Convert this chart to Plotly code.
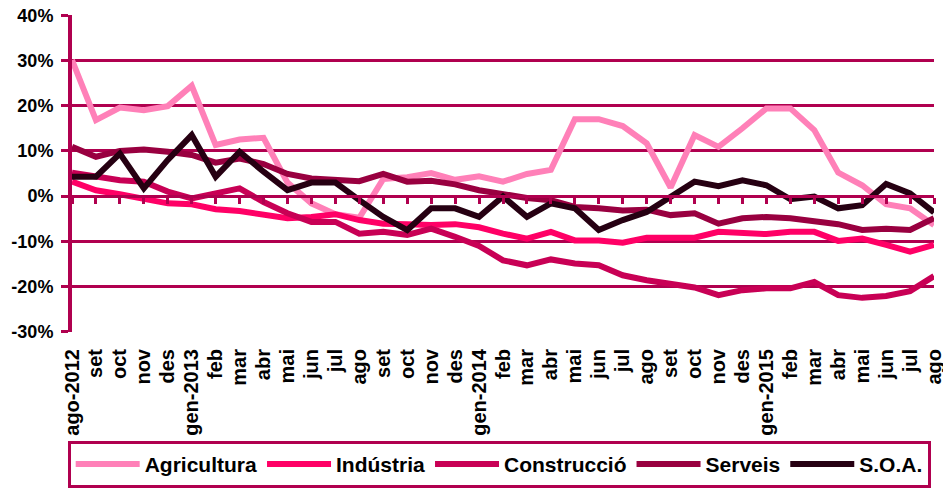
import plotly.graph_objects as go

months = ["ago-2012", "set", "oct", "nov", "des", "gen-2013", "feb", "mar", "abr", "mai", "jun", "jul",
          "ago", "set", "oct", "nov", "des", "gen-2014", "feb", "mar", "abr", "mai", "jun", "jul",
          "ago", "set", "oct", "nov", "des", "gen-2015", "feb", "mar", "abr", "mai", "jun", "jul", "ago"]

agricultura = [30.1, 16.8, 19.6, 19.0, 19.9, 24.4, 11.3, 12.5, 12.9, 3.0, -1.6, -4.0, -4.8, 3.8, 4.2, 5.1, 3.6,
               4.4, 3.2, 4.9, 5.8, 17.0, 17.0, 15.5, 11.7, 1.9, 13.5, 10.9, 15.0, 19.4, 19.4, 14.6, 5.2, 2.4,
               -1.8, -2.7, -6.4]
industria = [3.2, 1.3, 0.4, -0.5, -1.6, -1.8, -2.9, -3.3, -4.0, -4.9, -4.6, -4.0, -5.3, -6.1, -6.2, -6.4, -6.2,
             -6.9, -8.3, -9.4, -7.9, -9.8, -9.8, -10.3, -9.2, -9.2, -9.2, -7.9, -8.3, -8.4, -7.9, -7.9, -9.9,
             -9.4, -10.8, -12.3, -10.8]
construccio = [5.2, 4.5, 3.5, 3.2, 1.0, -0.5, 0.6, 1.7, -1.3, -3.8, -5.7, -5.7, -8.3, -7.9, -8.6, -7.2, -9.0,
               -11.0, -14.2, -15.3, -14.0, -14.9, -15.3, -17.5, -18.6, -19.5, -20.2, -21.9, -20.8, -20.4, -20.4,
               -19.0, -21.9, -22.5, -22.1, -21.0, -17.7]
serveis = [10.9, 8.7, 10.0, 10.3, 9.8, 9.1, 7.4, 8.3, 7.1, 4.9, 3.9, 3.5, 3.3, 4.9, 3.2, 3.4, 2.6,
           1.3, 0.4, -0.4, -0.9, -2.4, -2.7, -3.2, -3.0, -4.2, -3.8, -6.1, -4.9, -4.6, -4.9, -5.5, -6.2,
           -7.5, -7.2, -7.5, -4.9]
soa = [4.3, 4.3, 9.4, 1.7, 8.0, 13.5, 4.3, 9.8, 5.4, 1.3, 3.0, 3.0, -0.9, -4.6, -7.5, -2.7, -2.7,
       -4.6, -0.1, -4.6, -1.6, -2.7, -7.5, -5.3, -3.5, -0.1, 3.2, 2.2, 3.5, 2.4, -0.7, -0.1, -2.7,
       -2.0, 2.7, 0.6, -3.6]

series_names = ["Agricultura", "Indústria", "Construcció", "Serveis", "S.O.A."]
series_colors = ["#FF80B8", "#FF0066", "#C80055", "#990040", "#260012"]

y_tickvals = [-30, -20, -10, 0, 10, 20, 30, 40]
y_ticktext = ["-30%", "-20%", "-10%", "0%", "10%", "20%", "30%", "40%"]

AXIS = "#B0004F"
FONT = "Arial, Liberation Sans, sans-serif"

xs = list(range(len(months)))
fig = go.Figure()
for name, vals, col in zip(series_names, [agricultura, industria, construccio, serveis, soa], series_colors):
    fig.add_trace(go.Scatter(x=xs, y=vals, name=name, mode="lines",
                             line=dict(color=col, width=6), xaxis="x", yaxis="y"))

# dummy trace to carry the label axis at the bottom
fig.add_trace(go.Scatter(x=xs, y=[None] * len(xs), xaxis="x2", yaxis="y", showlegend=False,
                         hoverinfo="skip", mode="lines"))

fig.update_layout(
    width=943, height=489,
    margin=dict(l=72, r=9, t=15, b=157, autoexpand=False),
    paper_bgcolor="white", plot_bgcolor="white",
    font=dict(family=FONT, color="black"),
    showlegend=True,
    xaxis=dict(range=[0, len(months) - 1], anchor="free", position=3 / 7, automargin=False,
               tickvals=xs, showticklabels=False, ticks="outside", ticklen=6, tickwidth=3,
               tickcolor=AXIS, showline=True, linecolor=AXIS, linewidth=3,
               showgrid=False, zeroline=False),
    xaxis2=dict(range=[0, len(months) - 1], overlaying="x", anchor="y", side="bottom",
                automargin=False, ticklabeloverflow="allow",
                tickvals=xs, ticktext=months, tickangle=-90, ticks="",
                tickfont=dict(family=FONT, size=20, color="black", weight="bold"),
                ticklabelstandoff=12,
                showline=False, showgrid=False, zeroline=False),
    yaxis=dict(range=[-30.05, 40.05], tickvals=y_tickvals, ticktext=y_ticktext, automargin=False,
               ticklabeloverflow="allow",
               tickfont=dict(family=FONT, size=18, color="black", weight="bold"),
               showgrid=True, gridcolor=AXIS, gridwidth=3,
               showline=True, linecolor=AXIS, linewidth=4,
               ticks="outside", ticklen=7, tickwidth=3, tickcolor=AXIS,
               ticklabelstandoff=4, zeroline=False),
    legend=dict(orientation="h", x=-0.005, xanchor="left", y=-0.492, yanchor="bottom",
                bordercolor=AXIS, borderwidth=3, bgcolor="white",
                font=dict(family=FONT, size=21, color="black", weight="bold"),
                itemwidth=64),
)

fig.write_html("out.html", config={"displayModeBar": False},
               post_script="document.body.style.margin='0';")
